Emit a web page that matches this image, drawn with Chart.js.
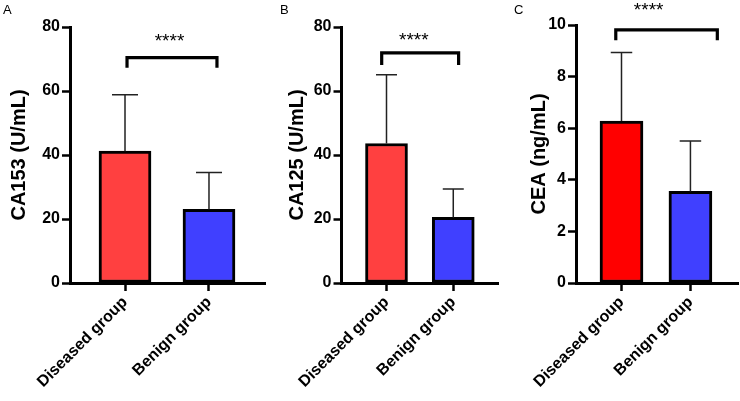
<!DOCTYPE html>
<html>
<head>
<meta charset="utf-8">
<script src="https://cdn.jsdelivr.net/npm/chart.js"></script>
<style>
  body { margin: 0; background: #fff; }
  #wrap { position: relative; width: 740px; height: 401px; overflow: hidden; }
  canvas { position: absolute; top: 0; }
  .tag { position: absolute; top: 3px; font: 13px Arial, "Liberation Sans", sans-serif; line-height: 1; color: #000; }
</style>
</head>
<body>
<div id="wrap">
  <canvas id="chartA" width="275" height="401" style="left:0px"></canvas>
  <canvas id="chartB" width="225" height="401" style="left:275px"></canvas>
  <canvas id="chartC" width="240" height="401" style="left:500px"></canvas>
  <div class="tag" style="left:3px">A</div>
  <div class="tag" style="left:280px">B</div>
  <div class="tag" style="left:514px">C</div>
</div>
<script>
// data
const categories = ['Diseased group', 'Benign group'];
const ca153Mean = [41.2, 23.0];
const ca153SD = [17.6, 11.5];
const ca125Mean = [43.6, 20.5];
const ca125SD = [21.5, 8.9];
const ceaMean = [6.28, 3.55];
const ceaSD = [2.65, 1.95];
const ca153Ticks = [0, 20, 40, 60, 80];
const ca125Ticks = [0, 20, 40, 60, 80];
const ceaTicks = [0, 2, 4, 6, 8, 10];
const sigLabel = '****';

const FONT = 'Arial, "Liberation Sans", sans-serif';

const errBars = {
  id: 'errBars',
  afterDatasetsDraw(chart) {
    const ds = chart.data.datasets[0];
    const meta = chart.getDatasetMeta(0);
    const y = chart.scales.y;
    const ctx = chart.ctx;
    ctx.save();
    ctx.strokeStyle = '#222';
    ctx.lineWidth = 1.5;
    meta.data.forEach((bar, i) => {
      const top = y.getPixelForValue(ds.data[i].y + ds.sd[i]);
      const half = bar.width / 4;
      ctx.beginPath();
      ctx.moveTo(bar.x, bar.y);
      ctx.lineTo(bar.x, top);
      ctx.moveTo(bar.x - half, top);
      ctx.lineTo(bar.x + half, top);
      ctx.stroke();
    });
    ctx.restore();
  }
};

const sigBracket = {
  id: 'sig',
  afterDraw(chart, args, o) {
    const x = chart.scales.x, y = chart.scales.y;
    const ctx = chart.ctx;
    const x1 = x.getPixelForValue(o.x1), x2 = x.getPixelForValue(o.x2);
    const yt = y.getPixelForValue(o.y), yb = y.getPixelForValue(o.y - o.drop);
    ctx.save();
    ctx.strokeStyle = '#000';
    ctx.lineWidth = 3.2;
    ctx.lineJoin = 'miter';
    ctx.beginPath();
    ctx.moveTo(x1, yb);
    ctx.lineTo(x1, yt);
    ctx.lineTo(x2, yt);
    ctx.lineTo(x2, yb);
    ctx.stroke();
    ctx.fillStyle = '#000';
    ctx.font = '19px ' + FONT;
    ctx.textAlign = 'center';
    ctx.textBaseline = 'alphabetic';
    ctx.fillText(sigLabel, x.getPixelForValue(o.lx), y.getPixelForValue(o.ly) + 10.5);
    ctx.restore();
  }
};

function makeChart(id, c) {
  return new Chart(document.getElementById(id), {
    type: 'bar',
    data: {
      datasets: [{
        data: c.mean.map((v, i) => ({ x: i + 1, y: v })),
        sd: c.sd,
        backgroundColor: c.colors,
        borderColor: '#000',
        borderWidth: 3,
        borderSkipped: false,
        barThickness: c.barWidth
      }]
    },
    options: {
      responsive: false,
      animation: false,
      layout: { padding: { top: c.top, right: c.padRight, left: 0, bottom: 0 } },
      plugins: {
        legend: { display: false },
        tooltip: { enabled: false },
        sig: c.sig
      },
      scales: {
        x: {
          type: 'linear',
          min: c.xmin,
          max: c.xmax,
          offset: false,
          grid: { offset: false, drawOnChartArea: false, drawTicks: true, tickLength: 8, tickWidth: 2.5, tickColor: '#000' },
          border: { display: true, color: '#000', width: 3 },
          afterBuildTicks: s => { s.ticks = categories.map((name, i) => ({ value: i + 1 })); },
          afterFit: s => { s.height = 118; },
          ticks: {
            autoSkip: false,
            minRotation: 45,
            maxRotation: 45,
            padding: 2,
            color: '#000',
            font: { family: FONT, size: 16, weight: 'bold' },
            callback: v => categories[v - 1]
          }
        },
        y: {
          min: c.yticks[0],
          max: c.yticks[c.yticks.length - 1],
          grid: { drawOnChartArea: false, drawTicks: true, tickLength: 8, tickWidth: 2.5, tickColor: '#000' },
          border: { display: true, color: '#000', width: 3 },
          afterBuildTicks: s => { s.ticks = c.yticks.map(v => ({ value: v })); },
          afterFit: s => { s.width = c.yWidth; },
          ticks: {
            padding: 2,
            color: '#000',
            font: { family: FONT, size: 16, weight: 'bold' }
          },
          title: {
            display: true,
            text: c.title,
            color: '#000',
            padding: { top: c.titlePad, bottom: 0 },
            font: { family: FONT, size: 20, weight: 'bold' }
          }
        }
      }
    },
    plugins: [errBars, sigBracket]
  });
}

makeChart('chartA', {
  mean: ca153Mean, sd: ca153SD, yticks: ca153Ticks,
  title: 'CA153 (U/mL)', colors: ['#ff4040', '#4040ff'],
  barWidth: 52, xmin: 0.345, xmax: 2.667,
  top: 27, padRight: 10, yWidth: 70, titlePad: 7.5,
  sig: { x1: 1.024, x2: 2.095, y: 70.4, drop: 3.1, lx: 1.53, ly: 76.9 }
});

makeChart('chartB', {
  mean: ca125Mean, sd: ca125SD, yticks: ca125Ticks,
  title: 'CA125 (U/mL)', colors: ['#ff4040', '#4040ff'],
  barWidth: 42, xmin: 0.326, xmax: 2.67,
  top: 27, padRight: 2, yWidth: 66.5, titlePad: 10.5,
  sig: { x1: 0.928, x2: 2.08, y: 71.9, drop: 3.8, lx: 1.41, ly: 77.3 }
});

makeChart('chartC', {
  mean: ceaMean, sd: ceaSD, yticks: ceaTicks,
  title: 'CEA (ng/mL)', colors: ['#ff0000', '#4040ff'],
  barWidth: 43, xmin: 0.34, xmax: 2.69,
  top: 25, padRight: 2, yWidth: 76, titlePad: 27.5,
  sig: { x1: 0.917, x2: 2.39, y: 9.81, drop: 0.4, lx: 1.394, ly: 10.74 }
});
</script>
</body>
</html>
